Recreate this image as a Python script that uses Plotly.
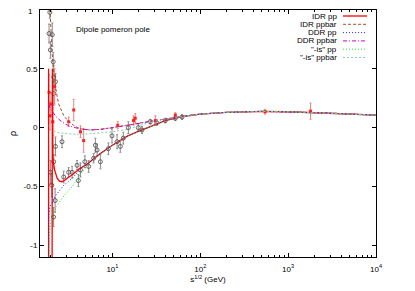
import math
import plotly.graph_objects as go

# ---------------- data ----------------
idr_pp_x = [1.877, 1.879, None, 2.06, 2.075, 2.09, 2.11, 2.13, 2.2, 2.35, 2.5, 2.65, 2.85, 3.2, 3.5, 4.3, 5.2, 6.0, 7.3, 10, 15, 20, 25, 30, 40, 60, 100, 200, 500, 1000, 3000, 10000]
idr_pp_rho = [0.5, -1.2, None, -1.2, 0.5, 0.0, -0.28, -0.31, -0.36, -0.43, -0.455, -0.46, -0.45, -0.42, -0.40, -0.345, -0.31, -0.27, -0.22, -0.15, -0.07, -0.03, 0.0, 0.025, 0.06, 0.092, 0.115, 0.13, 0.138, 0.135, 0.124, 0.106]

idr_ppbar_x = [1.94, 1.97, 2.0, 2.05, 2.13, 2.2, 2.3, 2.45, 2.6, 2.8, 3.16, 3.6, 4.3, 5.6, 7.3, 10.3, 16, 25, 40, 60, 100, 200, 500, 1000, 3000, 10000]
idr_ppbar_rho = [1.05, 0.9, 0.8, 0.65, 0.5, 0.4, 0.3, 0.2, 0.15, 0.1, 0.055, 0.02, -0.01, -0.02, -0.015, 0.0, 0.025, 0.05, 0.075, 0.095, 0.115, 0.13, 0.138, 0.135, 0.124, 0.106]

ddr_pp_x = [1.877, 1.885, 1.95, 2.3, 2.8, 3.5, 4.3, 5.2, 6.0, 7.3, 10, 15, 20, 25, 30, 40, 60, 100, 200, 500, 1000, 3000, 10000]
ddr_pp_rho = [-1.2, -0.75, -0.67, -0.57, -0.49, -0.43, -0.355, -0.31, -0.27, -0.22, -0.15, -0.07, -0.03, 0.0, 0.025, 0.06, 0.092, 0.115, 0.13, 0.138, 0.135, 0.124, 0.106]

ddr_ppbar_x = [1.88, 1.97, 2.3, 2.7, 3.2, 4.3, 5.6, 7.3, 10.3, 16, 25, 40, 60, 100, 200, 500, 1000, 3000, 10000]
ddr_ppbar_rho = [0.2, 0.16, 0.09, 0.045, 0.015, -0.012, -0.02, -0.015, 0.0, 0.025, 0.05, 0.075, 0.095, 0.115, 0.13, 0.138, 0.135, 0.124, 0.106]

is_pp_x = [1.9, 1.92, 2.0, 2.3, 2.8, 3.5, 4.3, 5.2, 6.0, 7.3, 10, 15, 20, 25, 30, 40, 60, 100, 200, 500, 1000, 3000, 10000]
is_pp_rho = [-1.2, -0.92, -0.79, -0.67, -0.58, -0.5, -0.4, -0.32, -0.275, -0.225, -0.15, -0.07, -0.03, 0.0, 0.025, 0.06, 0.092, 0.115, 0.13, 0.138, 0.135, 0.124, 0.106]

is_ppbar_x = [1.9, 2.0, 2.5, 3.5, 5.0, 7.3, 10.3, 16, 25, 40, 60, 100, 200, 500, 1000, 3000, 10000]
is_ppbar_rho = [0.02, -0.02, -0.045, -0.055, -0.055, -0.045, -0.035, -0.01, 0.04, 0.075, 0.095, 0.115, 0.13, 0.138, 0.135, 0.124, 0.106]

pp_data_x = [1.94, 1.90, 2.07, 1.97, 2.12, 2.15, 2.25, 2.15,
             1.97, 2.04, 2.14, 2.23, 2.15, 2.25, 2.67, 2.79, 3.18, 3.48, 3.96, 4.1, 4.33, 4.86, 5.37, 6.12, 6.4, 6.7, 7.3,
             9.0, 9.9, 11.3, 12.3, 13.3, 15.2, 19.7, 21.7, 27, 32, 40, 52, 62]
pp_data_rho = [0.98, 0.80, 0.79, 0.66, 0.56, 0.43, 0.39, 0.29,
               -0.38, -0.49, -0.76, -0.62, -0.29, -0.16, -0.12, -0.42, -0.38, -0.38, -0.32, -0.45, -0.36, -0.29, -0.33, -0.26, -0.15, -0.19, -0.29,
               -0.18, -0.07, -0.12, -0.16, -0.09, 0.0, 0.0, -0.02, 0.05, 0.04, 0.06, 0.08, 0.09]
pp_data_err = [0.05, 0.08, 0.1, 0.07, 0.08, 0.1, 0.07, 0.1,
               0.1, 0.1, 0.08, 0.1, 0.06, 0.08, 0.05, 0.05, 0.04, 0.05, 0.04, 0.05, 0.06, 0.05, 0.05, 0.04, 0.06, 0.05, 0.06,
               0.05, 0.06, 0.06, 0.05, 0.05, 0.05, 0.03, 0.03, 0.02, 0.02, 0.02, 0.02, 0.02]

ppbar_data_x = [1.9, 1.95, 2.0, 2.1, 2.2, 3.18, 3.63, 4.33, 4.71, 11.5, 17.4, 18.2, 30.8, 52, 546, 1800]
ppbar_data_rho = [0.3, 0.1, 0.2, 0.05, 0.35, 0.05, 0.15, -0.035, -0.11, 0.02, 0.06, 0.08, 0.06, 0.107, 0.135, 0.14]
ppbar_data_err = [0.15, 0.12, 0.1, 0.12, 0.15, 0.04, 0.09, 0.05, 0.1, 0.03, 0.04, 0.04, 0.04, 0.02, 0.02, 0.069]

legend_labels = ['IDR pp', 'IDR ppbar', 'DDR pp', 'DDR ppbar', '"-is" pp', '"-is" ppbar']
x_tick_vals = [10, 100, 1000, 10000]
x_tick_text = ['10<sup>1</sup>', '10<sup>2</sup>', '10<sup>3</sup>', '10<sup>4</sup>']
y_tick_vals = [-1, -0.5, 0, 0.5, 1]
y_tick_text = ['-1', '-0.5', '0', '0.5', '1']

# ---------------- styles ----------------
curves = [
    (idr_pp_x, idr_pp_rho, '#ff0000', 'solid', 1.3),
    (idr_ppbar_x, idr_ppbar_rho, '#a0522d', '3px,2px', 1.0),
    (ddr_pp_x, ddr_pp_rho, '#2020ff', '1px,2px', 1.0),
    (ddr_ppbar_x, ddr_ppbar_rho, '#cc00cc', '4px,2px,1px,2px', 1.0),
    (is_pp_x, is_pp_rho, '#22dd22', '1px,2px', 1.0),
    (is_ppbar_x, is_ppbar_rho, '#7fcfa8', '2px,2px', 1.0),
]

FONT = 'Liberation Sans, Arial, sans-serif'
fig = go.Figure()

fig.add_trace(go.Scatter(
    x=pp_data_x, y=pp_data_rho, mode='markers',
    error_y=dict(type='data', array=pp_data_err, color='#8c8c8c', thickness=1, width=1),
    marker=dict(symbol='circle-open', size=4, color='#444444', line=dict(width=0.8)),
    showlegend=False, cliponaxis=True))
fig.add_trace(go.Scatter(
    x=ppbar_data_x, y=ppbar_data_rho, mode='markers',
    error_y=dict(type='data', array=ppbar_data_err, color='#f28080', thickness=1, width=1),
    marker=dict(symbol='square', size=3, color='#ff2020'),
    showlegend=False, cliponaxis=True))

for cx, cy, col, dash, w in curves:
    fig.add_trace(go.Scatter(x=cx, y=cy, mode='lines', connectgaps=False,
                             line=dict(color=col, dash=dash, width=w), showlegend=False))

# page body has an 8px margin: size the figure so the plot box lands where the reference has it
OFF = 8
W, H = 415 - OFF, 291 - OFF
BOX_L, BOX_R, BOX_T, BOX_B = 39.5, 376, 10, 257   # target window pixels
ML, MT = BOX_L - OFF, BOX_T - OFF
MR, MB = W - (BOX_R - OFF), H - (BOX_B - OFF)
PW, PH = W - ML - MR, H - MT - MB

def px_to_paper_x(px):
    return (px - OFF - ML) / PW

def px_to_paper_y(py):
    return (H - MB - (py - OFF)) / PH

shapes = []
annotations = []
row_y0, row_dy = 16, 8.3
for i, (lab, c) in enumerate(zip(legend_labels, curves)):
    yy = px_to_paper_y(row_y0 + i * row_dy)
    annotations.append(dict(x=px_to_paper_x(339), y=yy, xref='paper', yref='paper', text=lab,
                            showarrow=False, xanchor='right', yanchor='middle',
                            font=dict(family=FONT, size=8, color='#000000')))
    shapes.append(dict(type='line', xref='paper', yref='paper',
                       x0=px_to_paper_x(343), x1=px_to_paper_x(367), y0=yy, y1=yy,
                       line=dict(color=c[2], dash=c[3], width=c[4])))

annotations.append(dict(x=px_to_paper_x(74), y=px_to_paper_y(30), xref='paper', yref='paper',
                        text='Dipole pomeron pole', showarrow=False, xanchor='left', yanchor='middle',
                        font=dict(family=FONT, size=8, color='#000000')))

# the top y tick label would be clipped at the page edge: draw it as an annotation nudged inside
top_label = y_tick_text[-1]
axis_tick_text = y_tick_text[:-1] + ['']
annotations.append(dict(x=0, y=y_tick_vals[-1], xref='paper', yref='y', text=top_label,
                        showarrow=False, xanchor='right', yanchor='middle', xshift=-5, yshift=-1.5,
                        font=dict(family=FONT, size=8, color='#000000')))

minor_vals = [m * 10 ** d for d in range(0, 4) for m in range(2, 10) if 1.5 <= m * 10 ** d <= 10000]

fig.update_layout(
    width=W, height=H,
    margin=dict(l=ML, r=MR, t=MT, b=MB, pad=0),
    paper_bgcolor='white', plot_bgcolor='white',
    font=dict(family=FONT, size=8, color='#000000'),
    shapes=shapes, annotations=annotations,
    xaxis=dict(type='log', range=[math.log10(1.5), 4], tickvals=x_tick_vals, ticktext=x_tick_text,
               ticks='inside', ticklen=4, tickcolor='#000000', showline=True, linecolor='#000000',
               linewidth=1, mirror='ticks', showgrid=False, zeroline=False, automargin=False,
               ticklabelstandoff=4, ticklabeloverflow='allow',
               minor=dict(tickvals=minor_vals, ticks='inside', ticklen=2, tickcolor='#000000'),
               title=dict(text='s<sup>1/2</sup> (GeV)', font=dict(size=8), standoff=2),
               tickfont=dict(size=8)),
    yaxis=dict(range=[-1.1, 1], tickvals=y_tick_vals, ticktext=axis_tick_text,
               ticks='inside', ticklen=4, tickcolor='#000000', showline=True, linecolor='#000000',
               linewidth=1, mirror='ticks', showgrid=False, zeroline=False, automargin=False,
               ticklabeloverflow='allow',
               title=dict(text='ρ', font=dict(size=9), standoff=8),
               tickfont=dict(size=8)),
)

fig.write_html('out.html')
